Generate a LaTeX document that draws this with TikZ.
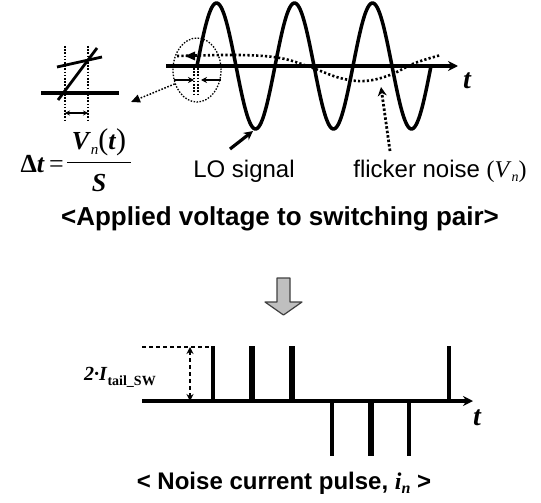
\documentclass[tikz,border=0pt]{standalone}
\usepackage{fontspec}
\setmainfont{Liberation Serif}
\setsansfont{Liberation Sans}
\usetikzlibrary{arrows.meta,shapes.geometric}
\begin{document}
\begin{tikzpicture}[x=1pt,y=-1pt,line join=round,
  thickline/.style={line width=3.5pt},
  dotline/.style={line width=2.6pt, dash pattern=on 2.2pt off 2.2pt},
  fineline/.style={line width=1.5pt, dash pattern=on 1.6pt off 1.6pt},
  lbl/.style={font=\fontsize{24}{28}\selectfont\sffamily, inner sep=0pt},
  titlelbl/.style={font=\fontsize{26}{30}\selectfont\sffamily\bfseries, inner sep=0pt},
  tlabel/.style={font=\fontsize{28}{30}\selectfont\bfseries\itshape, inner sep=0pt},
  bigtip/.style={-{Stealth[length=10pt,width=10pt]}},
  smalltip/.style={-{Stealth[length=6pt,width=6pt]}},
  pulse/.style={line width=#1}
]
\useasboundingbox (0,0) rectangle (541,503);

% ---------- top: LO signal and flicker noise ----------
\coordinate (ax1) at (166,66);
\coordinate (ax2) at (458,66);
\draw[thickline,bigtip] (ax1) -- (ax2);
\node[tlabel] (t1) at (467,81) {t};

\draw[thickline] plot[domain=0:234, samples=240] ({197+\x}, {66 - 63*sin(4.61538*\x)});

\draw[dotline] plot[smooth, tension=0.6] coordinates
  {(177,56) (240,55) (280,58) (310,67) (340,78) (365,81) (390,75) (415,63) (441,55)};
\fill (185,56) -- (195,51.5) -- (195,60.5) -- cycle;

% zoom ellipse
\node[draw, ellipse, line width=1.3pt, dash pattern=on 1.5pt off 1.5pt,
      minimum width=48pt, minimum height=64pt, inner sep=0pt] (ell) at (197,70) {};
\coordinate (ia1) at (174,80);
\coordinate (ib1) at (194,80);
\coordinate (ia2) at (221,80);
\coordinate (ib2) at (201,80);
\draw[line width=2pt, smalltip] (ia1) -- (ib1);
\draw[line width=2pt, smalltip] (ia2) -- (ib2);
\draw[fineline] (194,68) -- (194,94);
\draw[fineline] (198,68) -- (198,94);

% magnified view
\coordinate (magtip) at (131,102);
\draw[fineline, -{Triangle[length=9pt,width=8pt]}] (ell.212) -- (magtip);
\coordinate (m1) at (41,93);
\coordinate (m2) at (119,93);
\draw[thickline] (m1) -- (m2);
\draw[line width=2.8pt] (58,100) -- (97,48);
\draw[line width=2.8pt] (57,67) -- (102,57);
\draw[fineline] (65,46) -- (65,121);
\draw[fineline] (88,46) -- (88,121);
\coordinate (d1) at (65,113);
\coordinate (d2) at (88,113);
\draw[line width=1.6pt, {Stealth[length=5pt,width=5pt]}-{Stealth[length=5pt,width=5pt]}] (d1) -- (d2);

% formula
\node[font=\fontsize{26}{30}\selectfont, inner sep=0pt, anchor=east] (dt) at (64,164)
  {{\bfseries Δ}\textbf{\textit{t}}\,=};
\node[font=\fontsize{26}{30}\selectfont, inner sep=0pt] (num) at (99,142)
  {\textbf{\textit{V}}\raisebox{-5pt}{\fontsize{15}{15}\selectfont\itshape n}{\fontsize{30}{30}\selectfont(}\textbf{\textit{t}}{\fontsize{30}{30}\selectfont)}};
\draw[line width=1pt] (67,162) -- (131,162);
\node[font=\fontsize{26}{30}\selectfont, inner sep=0pt] (den) at (99,183) {\textbf{\textit{S}}};

% labels and pointers
\node[lbl] (lo) at (244,171) {LO signal};
\node[lbl] (fn) at (440,171) {flicker noise {\rmfamily(\textit{V}\raisebox{-4pt}{\fontsize{14}{14}\selectfont\itshape n})}};
\coordinate (loA) at (230,149);
\coordinate (loB) at (253,131);
\draw[line width=3.2pt, -{Stealth[length=9pt,width=9pt]}] (loA) -- (loB);
\coordinate (fnA) at (390,151);
\coordinate (fnB) at (381,87);
\draw[line width=2.8pt, dash pattern=on 2.5pt off 2pt, -{Stealth[length=9pt,width=9pt]}] (fnA) -- (fnB);

\node[titlelbl] (title) at (280,219) {<Applied voltage to switching pair>};

% ---------- transition arrow ----------
\draw[fill=black!25, draw=black!75, line width=1.2pt]
  (277,278) -- (290,278) -- (290,302) -- (302,302) -- (283.5,315) -- (265,302) -- (277,302) -- cycle;

% ---------- bottom: noise current pulses ----------
\coordinate (bx1) at (142,401);
\coordinate (bx2) at (473,401);
\draw[thickline,bigtip] (bx1) -- (bx2);
\node[tlabel] (t2) at (477,418) {t};

\draw[line width=1.3pt, dash pattern=on 4pt off 3pt] (142,347) -- (213,347);
\coordinate (h1) at (190,347);
\coordinate (h2) at (190,401);
\draw[line width=1.6pt, dash pattern=on 4pt off 3pt,
      {Stealth[length=7pt,width=7pt]}-{Stealth[length=7pt,width=7pt]}] (h1) -- (h2);
\node[font=\fontsize{20}{24}\selectfont, inner sep=0pt, anchor=base west] (itail) at (84,380)
  {\textbf{\textit{2·I}}\raisebox{-5pt}{\fontsize{14}{14}\selectfont\bfseries tail\_SW}};

\draw[pulse=3.5pt] (213,401) -- (213,346);
\draw[pulse=6pt] (252,401) -- (252,346);
\draw[pulse=6pt] (292,401) -- (292,346);
\draw[pulse=3.5pt] (332,401) -- (332,456);
\draw[pulse=6pt] (371,401) -- (371,456);
\draw[pulse=3.5pt] (409,401) -- (409,456);
\draw[pulse=3.5pt] (449,401) -- (449,346);

\node[font=\fontsize{24}{28}\selectfont\sffamily\bfseries, inner sep=0pt] (cap) at (284,483)
  {< Noise current pulse, {\rmfamily\itshape i\raisebox{-4pt}{\fontsize{16}{16}\selectfont n}} >};
\end{tikzpicture}
\end{document}
